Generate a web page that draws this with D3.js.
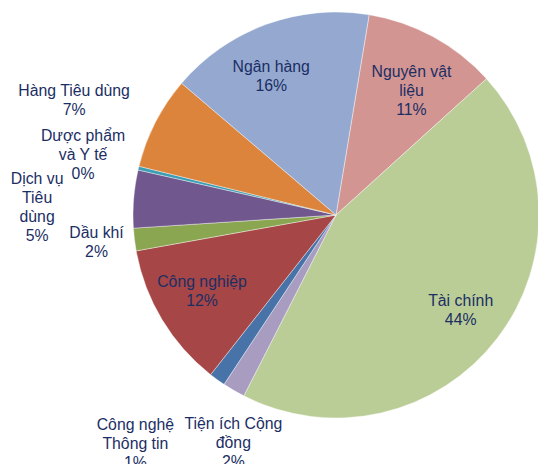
<!DOCTYPE html>
<html>
<head>
<meta charset="utf-8">
<script src="https://cdn.jsdelivr.net/npm/d3@7"></script>
<style>
  body { margin: 0; background: #fff; }
  svg { display: block; }
  .label { font-family: "Liberation Sans", Arial, sans-serif; font-size: 15.8px; fill: #1b2e64; }
</style>
</head>
<body>
<div id="chart"></div>
<script>
// sectors, in drawing order (clockwise from the top)
const sectors = ["Nguyên vật liệu", "Tài chính", "Tiện ích Cộng đồng", "Công nghệ Thông tin",
  "Công nghiệp", "Dầu khí", "Dịch vụ Tiêu dùng", "Dược phẩm và Y tế", "Hàng Tiêu dùng", "Ngân hàng"];
// shares in %
const shares = [10.7, 44.3, 1.8, 1.3, 11.6, 1.8, 4.6, 0.3, 7.4, 16.4];
// how each label is broken into lines
const labelLines = [
  ["Nguyên vật", "liệu"], ["Tài chính"], ["Tiện ích Cộng", "đồng"], ["Công nghệ", "Thông tin"],
  ["Công nghiệp"], ["Dầu khí"], ["Dịch vụ", "Tiêu", "dùng"], ["Dược phẩm", "và Y tế"],
  ["Hàng Tiêu dùng"], ["Ngân hàng"]
];

const colors = ["#d39592", "#bacd97", "#a89dc0", "#4773a8", "#a74646",
  "#8ba650", "#70578d", "#3d9db4", "#dc843c", "#95a9d0"];
// label placement: [radius, angle nudge in degrees]
const labelPos = [[146, 2.5], [157, 0], [250, -6], [304, 5.5], [154, 1.5],
  [241, 0.5], [299, -3], [260, 0], [286, -3.5], [153, -5]];

const width = 538, height = 464;
const cx = 336, cy = 215, radius = 203;
const start = 9.4 * Math.PI / 180;

const svg = d3.select("#chart").append("svg")
  .attr("width", width)
  .attr("height", height);

const g = svg.append("g").attr("transform", `translate(${cx},${cy})`);

const pie = d3.pie().sort(null).value(d => d)
  .startAngle(start).endAngle(start + 2 * Math.PI);
const arcs = pie(shares);
const arc = d3.arc().innerRadius(0).outerRadius(radius);

g.selectAll("path")
  .data(arcs)
  .enter().append("path")
  .attr("d", arc)
  .attr("fill", (d, i) => colors[i])
  .attr("stroke", "#fff")
  .attr("stroke-width", 0.4);

const lineH = 19;
arcs.forEach((d, i) => {
  const mid = (d.startAngle + d.endAngle) / 2 + labelPos[i][1] * Math.PI / 180;
  const r = labelPos[i][0];
  const x = r * Math.sin(mid), y = -r * Math.cos(mid);
  const lines = labelLines[i].concat([Math.round(shares[i]) + "%"]);
  const t = g.append("text")
    .attr("class", "label")
    .attr("text-anchor", "middle");
  lines.forEach((s, k) => {
    t.append("tspan")
      .attr("x", x)
      .attr("y", y - (lines.length - 1) * lineH / 2 + k * lineH + 5.5)
      .text(s);
  });
});
</script>
</body>
</html>
